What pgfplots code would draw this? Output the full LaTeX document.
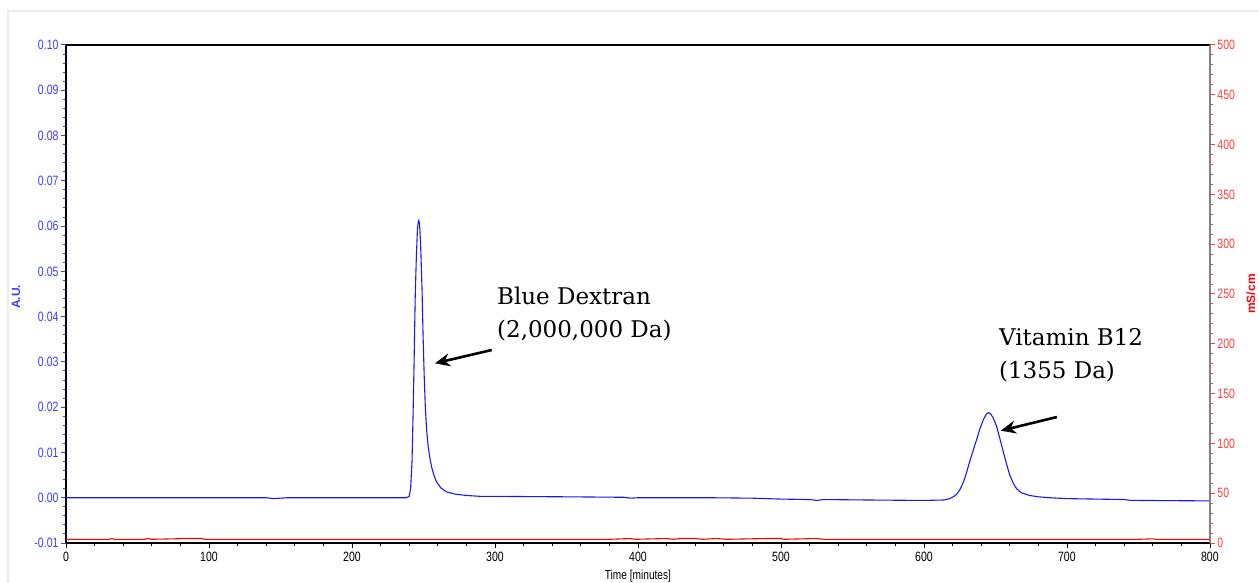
\documentclass[border=0pt]{standalone}
\usepackage{pgfplots}
\pgfplotsset{compat=1.18}
\usetikzlibrary{arrows.meta}
\usepackage{fontspec}
\setmainfont{Liberation Sans}
\newfontfamily\ticksfont[FakeStretch=0.78]{Liberation Sans}
\newfontfamily\annfont{DejaVu Serif}
\definecolor{trblue}{RGB}{25,25,245}
\definecolor{tkblue}{RGB}{60,60,255}
\definecolor{tkred}{RGB}{255,60,60}
\begin{document}
\begin{tikzpicture}
\useasboundingbox (-66bp,-40bp) rectangle (1193bp,543bp);
\draw[black!8, line width=2bp] (-58bp,-45bp) -- (-58bp,532bp) -- (1200bp,532bp);
\begin{axis}[
  at={(0,0)}, anchor=south west,
  scale only axis, width=1144bp, height=498bp,
  xmin=0, xmax=800, ymin=-0.01, ymax=0.10,
  axis y line*=left, axis x line*=bottom,
  xtick={0,100,...,800}, minor x tick num=4,
  ytick={-0.01,0,0.01,0.02,0.03,0.04,0.05,0.06,0.07,0.08,0.09,0.10}, minor y tick num=4,
  tick align=outside,
  major tick length=5bp, minor tick length=3bp,
  x axis line style={black, line width=1.2bp},
  y axis line style={black, line width=1.2bp},
  xtick style={black, line width=0.8bp},
  ytick style={tkblue, line width=1bp},
  /pgf/number format/assume math mode=true,
  yticklabel style={tkblue, font=\ticksfont\fontsize{13.5bp}{15bp}\selectfont, /pgf/number format/fixed, /pgf/number format/fixed zerofill, /pgf/number format/precision=2, xshift=1bp},
  xticklabel style={black, font=\ticksfont\fontsize{13.5bp}{15bp}\selectfont, yshift=-1bp},
  xlabel={Time [minutes]},
  xlabel style={font=\ticksfont\fontsize{13bp}{15bp}\selectfont, at={(axis description cs:0.5,0)}, anchor=base, yshift=-36bp},
  ylabel={A.U.},
  ylabel style={tkblue, font=\bfseries\fontsize{12bp}{14bp}\selectfont, at={(axis description cs:-0.0402,0.494)}, anchor=base},
  clip=false,
]
\addplot[trblue, line width=1.1bp] coordinates {
(0,0) (100,0) (140,0) (145,-0.0002) (150,-0.0001) (155,0) (200,0) (238,0)
(240,0.0003) (241,0.002) (242,0.008) (242.7,0.018) (243.5,0.031) (244.2,0.044)
(245,0.053) (245.8,0.0595) (246.5,0.0612) (247.2,0.0608) (248,0.056) (249,0.046)
(249.7,0.036) (250.5,0.027) (251.3,0.020) (252.2,0.0150) (253.3,0.0113) (254.5,0.0087)
(256,0.0064) (257.5,0.0048) (259,0.0036) (262,0.0022) (266,0.0013) (272,0.0008)
(280,0.0005) (290,0.0003) (300,0.0003) (350,0.0002) (390,0.0001) (395,-0.0001)
(400,0) (450,0) (480,-0.0001) (500,-0.0003) (520,-0.0004) (525,-0.0006) (530,-0.0004)
(560,-0.0005) (600,-0.0006) (614,-0.0005) (618,-0.0002)
(621,0.0003) (623,0.0008) (625,0.0017) (627,0.0030) (629,0.0047) (632,0.0080) (635,0.0110) (637,0.0130)
(639,0.0151) (641.5,0.0172) (643.5,0.0184) (645,0.0188) (646.5,0.0186) (648.5,0.0176)
(650.9,0.0157) (653,0.0132) (655.6,0.0100) (658,0.0072) (660,0.0050) (662.5,0.0032)
(664.8,0.0020) (668,0.0011) (674,0.0005) (680,0.0002) (688,0.0000) (700,-0.0002) (740,-0.0004)
(745,-0.0006) (750,-0.0006) (800,-0.0007)
};
\draw[black, line width=1.2bp] (rel axis cs:0,1) -- (rel axis cs:1,1);
\node[anchor=north west, inner sep=0pt, align=left, font=\annfont\fontsize{23bp}{33bp}\selectfont] at (axis cs:301.4,0.04655) {Blue Dextran\\(2,000,000 Da)};
\node[anchor=north west, inner sep=0pt, align=left, font=\annfont\fontsize{23bp}{33bp}\selectfont] at (axis cs:652.4,0.0375) {Vitamin B12\\(1355 Da)};
\draw[black, line width=2.6bp, -{Stealth[length=15bp,width=13bp]}] (axis cs:297.7,0.03263) -- (axis cs:258.0,0.02969);
\draw[black, line width=2.6bp, -{Stealth[length=15bp,width=13bp]}] (axis cs:693.0,0.01783) -- (axis cs:653.8,0.01481);
\end{axis}
\begin{axis}[
  at={(0,0)}, anchor=south west,
  scale only axis, width=1144bp, height=498bp,
  xmin=0, xmax=800, ymin=0, ymax=500,
  axis y line*=right, axis x line=none,
  ytick={0,50,...,500}, minor y tick num=4,
  tick align=outside,
  major tick length=5bp, minor tick length=3bp,
  y axis line style={black!50, line width=1.8bp},
  ytick style={tkred, line width=1bp},
  /pgf/number format/assume math mode=true,
  yticklabel style={tkred, font=\ticksfont\fontsize{13.5bp}{15bp}\selectfont, xshift=-1bp},
  ylabel={mS/cm},
  ylabel style={red, font=\bfseries\fontsize{12bp}{14bp}\selectfont, at={(axis description cs:1.0395,0.5)}, anchor=base},
  clip=false,
]
\addplot[red, line width=1.1bp] coordinates {
(0,3.7) (30,3.7) (32,4.5) (34,3.7) (55,3.7) (57,4.5) (60,3.7) (85,4.5) (90,4.5) (95,4.5) (97,3.7)
(380,3.7) (395,4.5) (398,3.7) (420,4.5) (425,3.7) (430,4.5) (440,4.5) (445,3.7) (455,4.5) (462,3.7)
(490,4.5) (500,4.5) (502,3.7) (525,4.5) (530,3.7) (750,3.7) (760,4.2) (762,3.7) (800,3.7)
};
\end{axis}
\end{tikzpicture}
\end{document}
